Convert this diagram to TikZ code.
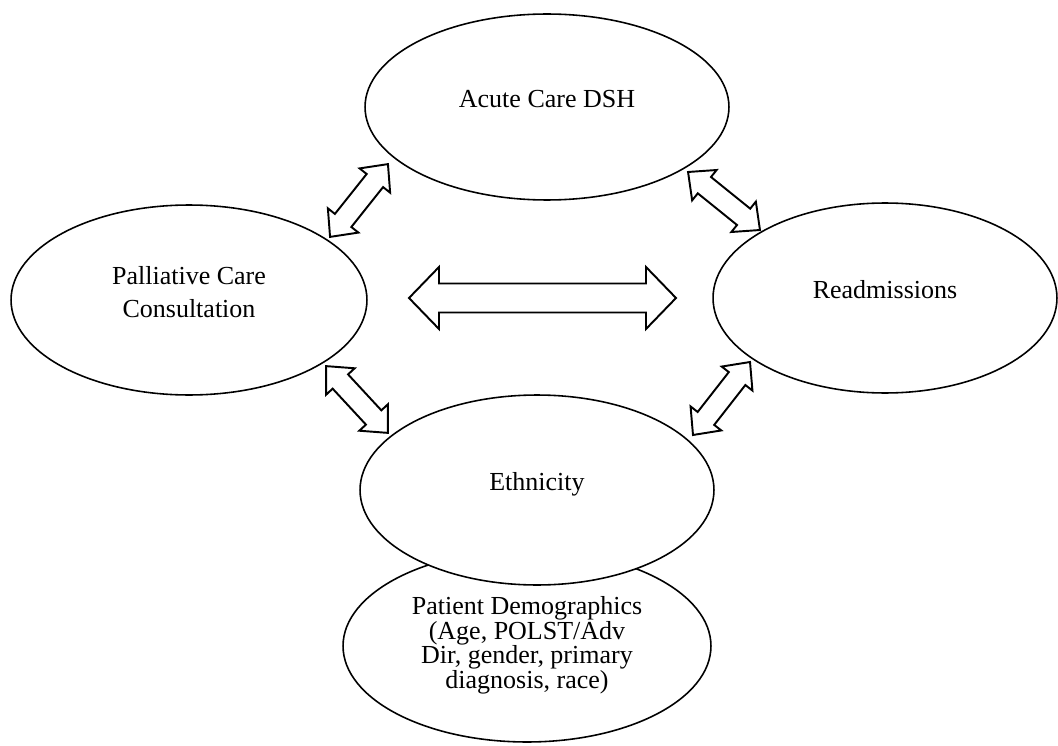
\documentclass[tikz,border=0pt]{standalone}
\usepackage{fontspec}
\setmainfont{Liberation Serif}
\usetikzlibrary{shapes.geometric}

\tikzset{
    bubble/.style={draw, ellipse, fill=white, line width=0.9pt, inner sep=0pt,
        align=center, text depth=9.6pt, font=\fontsize{14.8}{18.7}\selectfont},
    blockarrow/.style={draw, line width=1.1pt, line join=miter, fill=white}
}
% #1 centre, #2 angle, #3 half length, #4 head half width, #5 shaft half width, #6 head length
\newcommand{\dblarrow}[6]{%
    \draw[blockarrow, shift={#1}, rotate=#2]
        (-#3,0) -- (-#3+#6,#4) -- (-#3+#6,#5) -- (#3-#6,#5) -- (#3-#6,#4) -- (#3,0)
        -- (#3-#6,-#4) -- (#3-#6,-#5) -- (-#3+#6,-#5) -- (-#3+#6,-#4) -- cycle;}

\begin{document}
\begin{tikzpicture}[x=0.02cm, y=0.02cm]
\useasboundingbox (0,0) rectangle (1058,745);

% ellipses
    \node[bubble, minimum width=7.28cm, minimum height=3.72cm] (acute) at (547,638) {Acute Care DSH};
    \node[bubble, minimum width=7.12cm, minimum height=3.8cm] (palliative) at (189,445) {Palliative Care\\Consultation};
    \node[bubble, minimum width=6.88cm, minimum height=3.8cm] (readmit) at (885,447) {Readmissions};
    \node[bubble, minimum width=7.36cm, minimum height=3.84cm, text depth=4pt,
        font=\fontsize{14.8}{13.9}\selectfont] (demog) at (527,99)
        {Patient Demographics\\(Age, POLST/Adv\\Dir, gender, primary\\diagnosis, race)};
    \node[bubble, minimum width=7.08cm, minimum height=3.8cm] (ethnic) at (537,255) {Ethnicity};

% arrows
    \dblarrow{(359,544.5)}{51.5}{46.5}{19.5}{10.5}{21}
    \dblarrow{(724,544)}{-38.9}{46.2}{19.5}{10.5}{21}
    \dblarrow{(357,345.5)}{-47.2}{45.5}{19.5}{10.5}{21}
    \dblarrow{(721.5,346.5)}{52}{46.3}{19.5}{10.5}{21}
    \dblarrow{(542.5,447)}{0}{133.5}{31}{14.5}{30}

\end{tikzpicture}
\end{document}
